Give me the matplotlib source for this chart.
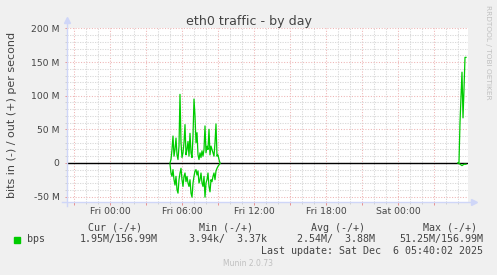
import pandas as pd
import matplotlib
matplotlib.use("Agg")
import matplotlib.pyplot as plt
import matplotlib.dates as mdates
from matplotlib.ticker import MultipleLocator, FuncFormatter

# eth0 traffic, 5 minute samples, Mbit/s
burst_start = "2025-12-05 05:00"
burst_out = [0, 5, 20, 40, 10, 20, 37, 12, 5, 25, 102, 30, 8, 15, 30, 57, 12, 20, 32, 10,
             44, 15, 8, 40, 95, 70, 30, 45, 12, 5, 15, 8, 18, 10, 20, 55, 15, 25, 20, 50,
             12, 25, 20, 15, 10, 30, 58, 10, 12, 5, 0]
burst_in = [2, 15, 20, 10, 25, 33, 20, 40, 45, 25, 15, 8, 25, 35, 20, 15, 28, 20, 30, 35,
            25, 45, 51, 30, 20, 12, 10, 18, 12, 30, 25, 15, 30, 35, 20, 51, 30, 25, 15, 35,
            43, 25, 28, 20, 15, 25, 12, 8, 5, 3, 1]

tail_start = "2025-12-06 05:00"
tail_out = [0, 1, 60, 98, 135, 67, 110, 157, 157]
tail_in = [0, 0.5, 2, 3, 4, 3, 2, 2, 1.95]

view_start = "2025-12-04 20:25"
view_end = "2025-12-06 05:50"

y_ticks = [-50, 0, 50, 100, 150, 200]
y_tick_labels = ["-50 M", "0", "50 M", "100 M", "150 M", "200 M"]

legend_head = ["Cur (-/+)", "Min (-/+)", "Avg (-/+)", "Max (-/+)"]
legend_vals = ["1.95M/156.99M", "3.94k/  3.37k", "2.54M/  3.88M", "51.25M/156.99M"]
last_update = "Last update: Sat Dec  6 05:40:02 2025"

W, H = 497, 275
green = "#00cc00"
axis_col = "#cfd6f8"
txt = "#444444"


def fx(px):
    return px / W


def fy(py):
    return 1 - py / H


fig = plt.figure(figsize=(W / 100, H / 100), dpi=100, facecolor="#f0f0f0")
ax = fig.add_axes([fx(67), fy(202.3), fx(468) - fx(67), fy(28) - fy(202.3)])
ax.set_facecolor("white")

for start, out_vals, in_vals in [(burst_start, burst_out, burst_in),
                                 (tail_start, tail_out, tail_in)]:
    t = pd.date_range(start, periods=len(out_vals), freq="5min")
    ax.plot(t, out_vals, color=green, lw=0.9, zorder=4)
    ax.plot(t, [-v for v in in_vals], color=green, lw=0.9, zorder=4)

ax.axhline(0, color="black", lw=1.0, zorder=3)

ax.set_xlim(pd.Timestamp(view_start), pd.Timestamp(view_end))
ax.set_ylim(-58.6, 200.7)

ax.xaxis.set_major_locator(mdates.HourLocator(byhour=range(0, 24, 3)))
ax.xaxis.set_minor_locator(mdates.HourLocator(interval=1))


def xlab(x, pos):
    d = mdates.num2date(x)
    return d.strftime("%a %H:%M") if d.hour % 6 == 0 else ""


ax.xaxis.set_major_formatter(FuncFormatter(xlab))
ax.set_yticks(y_ticks, labels=y_tick_labels)
ax.yaxis.set_minor_locator(MultipleLocator(10))

ax.grid(which="major", color="#eeb4b4", linestyle=(0, (1.0, 1.6)), lw=0.75, zorder=1)
ax.grid(which="minor", color="#dadada", linestyle=(0, (1.2, 1.2)), lw=0.75, zorder=1)
ax.set_axisbelow(True)

ax.tick_params(which="major", length=1.8, width=0.7, color="#e89090",
               labelsize=6.7, labelcolor=txt, pad=1.5)
ax.tick_params(which="minor", length=1.5, width=0.7, color="#d0d0d0")
ax.tick_params(axis="y", pad=3.5)
for s in ax.spines.values():
    s.set_visible(False)

# rrdtool style axis arrows
ax.plot([0, 0], [-0.02, 1.04], transform=ax.transAxes, color=axis_col, lw=1.0, clip_on=False, zorder=5)
ax.plot([0], [1.045], marker="^", ms=4.5, color=axis_col, transform=ax.transAxes, clip_on=False)
ax.plot([-0.012, 1.012], [0, 0], transform=ax.transAxes, color=axis_col, lw=1.0, clip_on=False, zorder=5)
ax.plot([1.015], [0], marker=">", ms=4.5, color=axis_col, transform=ax.transAxes, clip_on=False)

fig.text(fx(248.5), fy(25), "eth0 traffic - by day", ha="center", va="baseline",
         fontsize=9.1, color=txt)
fig.text(fx(12), fy(115), "bits in (-) / out (+) per second", rotation=90,
         ha="center", va="center", fontsize=8, color=txt)
fig.text(fx(488), fy(5), "RRDTOOL / TOBI OETIKER", rotation=270, ha="center", va="top",
         fontsize=5.3, color="#c0c0c0")

mono = "DejaVu Sans Mono"
head_x = [142, 253, 365, 477]
val_x = [158, 267, 375, 483]
for x, s in zip(head_x, legend_head):
    fig.text(fx(x), fy(227.7), s, ha="right", va="center", family=mono, fontsize=7.2, color=txt)
for x, s in zip(val_x, legend_vals):
    fig.text(fx(x), fy(239), s, ha="right", va="center", family=mono, fontsize=7.2, color=txt)
fig.patches.append(plt.Rectangle((fx(14), fy(242.5)), fx(6), 6 / H, transform=fig.transFigure,
                                 color=green, figure=fig))
fig.text(fx(27), fy(239), "bps", ha="left", va="center", family=mono, fontsize=7.2, color=txt)
fig.text(fx(483), fy(251), last_update, ha="right", va="center", family=mono, fontsize=7.2, color=txt)
fig.text(fx(248), fy(264), "Munin 2.0.73", ha="center", va="center", fontsize=5.5, color="#c0c0c0")

fig.savefig("out.png", dpi=100, facecolor=fig.get_facecolor())
